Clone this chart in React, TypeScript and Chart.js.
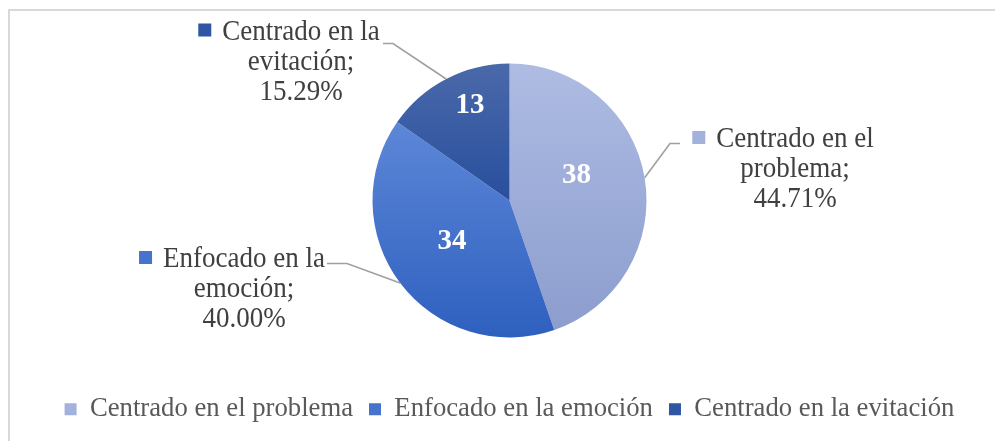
import React, { useEffect, useRef } from 'react';
import { Chart, registerables } from 'chart.js';

Chart.register(...registerables);

// ---- data ----
const categories = ['Centrado en el problema', 'Enfocado en la emoción', 'Centrado en la evitación'];
const counts = [38, 34, 13];
const calloutNames = [
  ['Centrado en el', 'problema;'],
  ['Enfocado en la', 'emoción;'],
  ['Centrado en la', 'evitación;'],
];

// ---- styles ----
const FONT = "'Liberation Serif', 'Times New Roman', serif";
const gradientStops = [
  ['#aebce3', '#8c9dce'],
  ['#5d87d8', '#2e60bf'],
  ['#4a69a9', '#284f9e'],
];
const legendColors = ['#a3b2dc', '#4673cc', '#2f55a3'];

// layout of callouts relative to pie centre (px)
const calloutLayout = [
  { cx: 285.5, cy: -61, elbow: [160.5, -57], end: [170.5, -57] },
  { cx: -265.5, cy: 59, elbow: [-162.5, 63], end: [-182.5, 63] },
  { cx: -208.5, cy: -168.5, elbow: [-116.5, -157], end: [-126.5, -157] },
];
const valueLabelOffsets = [
  [67, -25],
  [-57.5, 41],
  [-39.5, -95],
];

const framePlugin = {
  id: 'frame',
  beforeDraw(chart: any) {
    const { ctx, width, height } = chart;
    ctx.save();
    ctx.fillStyle = '#ffffff';
    ctx.fillRect(0, 0, width, height);
    ctx.fillStyle = '#d9d9d9';
    ctx.fillRect(8, 9, width - 8, 2);
    ctx.fillRect(8, 9, 2, height - 9);
    ctx.restore();
  },
};

function arcBounds(el: any) {
  const { x, y, startAngle, endAngle, outerRadius } = el;
  let minY = y;
  let maxY = y;
  const pts = [startAngle, endAngle];
  for (let k = -4; k <= 8; k++) {
    const a = (k * Math.PI) / 2;
    if (a > startAngle && a < endAngle) pts.push(a);
  }
  pts.forEach((a) => {
    const py = y + outerRadius * Math.sin(a);
    minY = Math.min(minY, py);
    maxY = Math.max(maxY, py);
  });
  return { minY, maxY };
}

const gradientPlugin = {
  id: 'sliceGradient',
  beforeDatasetsDraw(chart: any) {
    const { ctx } = chart;
    const meta = chart.getDatasetMeta(0);
    meta.data.forEach((el: any, i: number) => {
      const { minY, maxY } = arcBounds(el);
      const g = ctx.createLinearGradient(0, minY, 0, maxY);
      g.addColorStop(0, gradientStops[i][0]);
      g.addColorStop(1, gradientStops[i][1]);
      el.options.backgroundColor = g;
    });
  },
};

const TEXT_SX = 0.9;

const labelsPlugin = {
  id: 'pieLabels',
  afterDatasetsDraw(chart: any) {
    const { ctx } = chart;
    const meta = chart.getDatasetMeta(0);
    const total = counts.reduce((a, b) => a + b, 0);
    meta.data.forEach((el: any, i: number) => {
      const { x, y, startAngle, endAngle, outerRadius } = el;
      const mid = (startAngle + endAngle) / 2;
      const lay = calloutLayout[i];

      // leader line
      ctx.save();
      ctx.strokeStyle = '#a0a0a0';
      ctx.lineWidth = 1.6;
      ctx.beginPath();
      ctx.moveTo(x + outerRadius * Math.cos(mid), y + outerRadius * Math.sin(mid));
      ctx.lineTo(x + lay.elbow[0], y + lay.elbow[1]);
      ctx.lineTo(x + lay.end[0], y + lay.end[1]);
      ctx.stroke();
      ctx.restore();

      // callout text (slightly condensed)
      const lines = [...calloutNames[i], ((counts[i] / total) * 100).toFixed(2) + '%'];
      const bx = x + lay.cx;
      const by = y + lay.cy;
      ctx.save();
      ctx.font = `30px ${FONT}`;
      ctx.fillStyle = '#404040';
      ctx.textAlign = 'center';
      ctx.textBaseline = 'middle';
      ctx.translate(bx, by);
      ctx.scale(TEXT_SX, 1);
      lines.forEach((t, j) => {
        ctx.fillText(t, 0, j * 30);
      });
      const w0 = ctx.measureText(lines[0]).width * TEXT_SX;
      ctx.restore();
      ctx.save();
      ctx.fillStyle = legendColors[i];
      ctx.fillRect(bx - w0 / 2 - 11 - 13, by - 8.5, 13, 13);
      ctx.restore();

      // value inside slice
      ctx.save();
      ctx.font = `bold 29px ${FONT}`;
      ctx.fillStyle = '#ffffff';
      ctx.textAlign = 'center';
      ctx.textBaseline = 'middle';
      ctx.fillText(String(counts[i]), x + valueLabelOffsets[i][0], y + valueLabelOffsets[i][1]);
      ctx.restore();
    });
  },
};

export default function App() {
  const ref = useRef<HTMLCanvasElement>(null);
  useEffect(() => {
    document.body.style.margin = '0';
    document.body.style.overflow = 'hidden';
    const chart = new Chart(ref.current!, {
      type: 'pie',
      data: {
        labels: categories,
        datasets: [
          {
            data: counts,
            backgroundColor: legendColors,
            borderWidth: 0,
            radius: 137,
          } as any,
        ],
      },
      options: {
        animation: false,
        responsive: false,
        devicePixelRatio: 1,
        layout: { padding: { top: 21.2, left: 24, right: 0, bottom: 8.5 } },
        plugins: {
          tooltip: { enabled: false },
          legend: {
            position: 'bottom',
            labels: {
              font: { family: FONT, size: 26.7 },
              color: '#595959',
              boxWidth: 12,
              boxHeight: 12,
              padding: 16,
              generateLabels: () =>
                categories.map((c, i) => ({
                  text: c,
                  fillStyle: legendColors[i],
                  strokeStyle: legendColors[i],
                  lineWidth: 0,
                  hidden: false,
                  index: i,
                  fontColor: '#595959',
                })),
            },
          },
        },
      },
      plugins: [framePlugin, gradientPlugin, labelsPlugin],
    });
    return () => chart.destroy();
  }, []);
  return (
    <div style={{ width: 995, height: 441 }}>
      <canvas ref={ref} width={995} height={441} style={{ display: 'block' }} />
    </div>
  );
}
